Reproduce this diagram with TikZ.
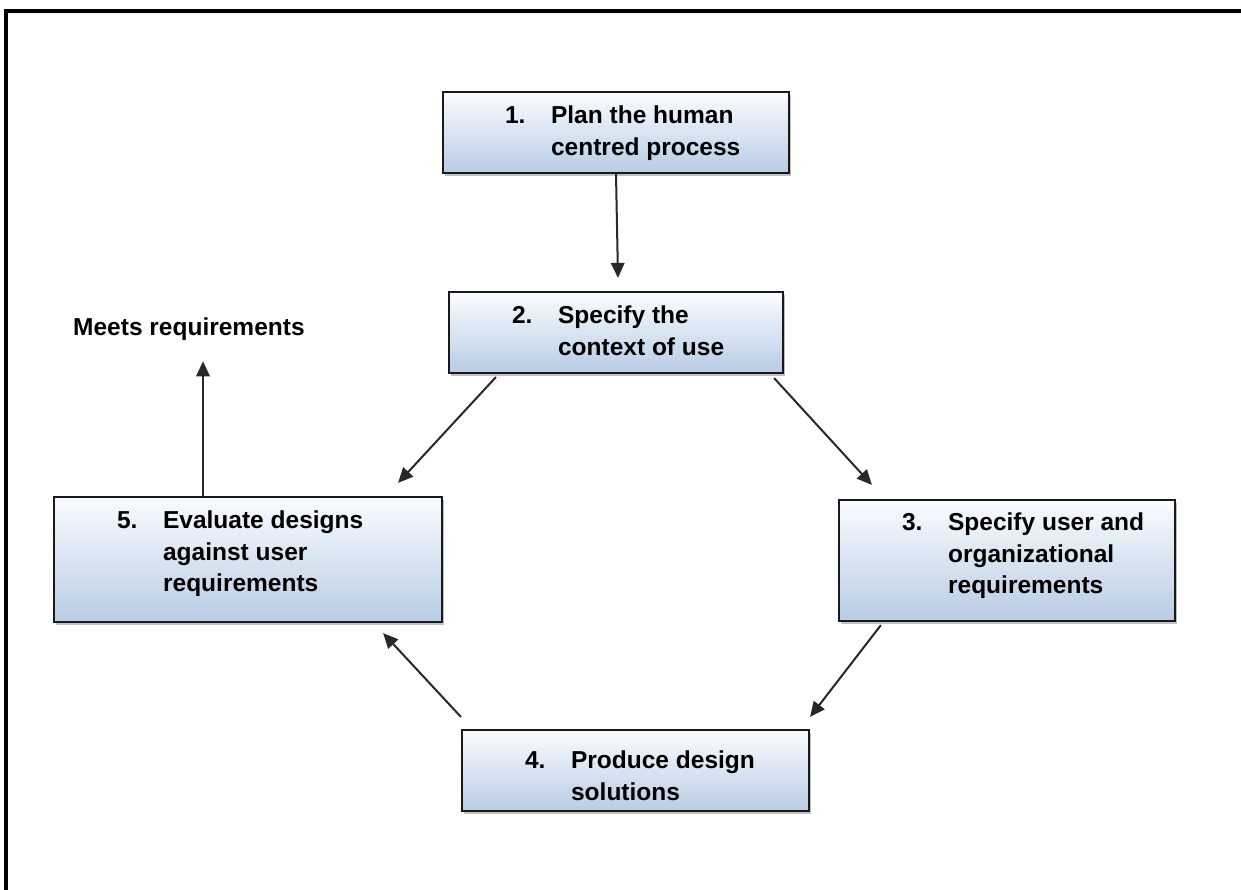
\documentclass[tikz,border=0pt]{standalone}
\usepackage{fontspec}
\setmainfont{Liberation Sans}
\usetikzlibrary{arrows.meta,calc,shadows}
\definecolor{boxtop}{RGB}{250,252,255}
\definecolor{boxbot}{RGB}{184,204,228}
\definecolor{boxline}{RGB}{25,25,25}
\definecolor{arrowgray}{RGB}{40,40,40}
% number column followed by the step text, first baseline on top
\newcommand\stagetext[2]{\begin{tabular}[t]{@{}p{46pt}@{}l@{}}#1&#2\end{tabular}}
\begin{document}
\begin{tikzpicture}[x=1pt,y=-1pt,
  box/.style={draw=boxline, line width=2.2pt, top color=boxtop, bottom color=boxbot,
    drop shadow={shadow xshift=2pt, shadow yshift=-3pt, opacity=0.35, fill=black!70},
    inner sep=0pt},
  lbl/.style={anchor=base west, inner sep=0pt,
    font=\fontsize{24.5}{31.5}\selectfont\bfseries, text=black},
  flow/.style={draw=arrowgray, line width=2pt,
    -{Triangle[length=15pt,width=13.5pt]}}]
\useasboundingbox (0,0) rectangle (1241,890);

% frame (top and left edges)
\draw[line width=4pt, black] (6,890) -- (6,11.5) -- (1241,11.5);

% process boxes
\node[box, minimum width=346pt, minimum height=81pt]  (b1) at (616,132.5) {};
\node[box, minimum width=334pt, minimum height=81pt]  (b2) at (616,332.5) {};
\node[box, minimum width=336pt, minimum height=121pt] (b3) at (1007,560.5) {};
\node[box, minimum width=347pt, minimum height=81pt]  (b4) at (635.5,770.5) {};
\node[box, minimum width=388pt, minimum height=125pt] (b5) at (248,559.5) {};

% box texts
\node[lbl] (t1) at ($(b1.north west)+(63,33)$)
  {\stagetext{1.}{Plan the human\\&centred process}};
\node[lbl] (t2) at ($(b2.north west)+(64,33)$)
  {\stagetext{2.}{Specify the\\&context of use}};
\node[lbl] (t3) at ($(b3.north west)+(64,32)$)
  {\stagetext{3.}{Specify user and\\&organizational\\&requirements}};
\node[lbl] (t4) at ($(b4.north west)+(64,40)$)
  {\stagetext{4.}{Produce design\\&solutions}};
\node[lbl] (t5) at ($(b5.north west)+(64,33)$)
  {\stagetext{5.}{Evaluate designs\\&against user\\&requirements}};

% outcome label
\node[lbl] (m) at (73,335) {Meets requirements};

% flow arrows
\draw[flow] (b1.south) -- ($(b2.north)+(2,-13)$);
\draw[flow] ($(b2.south west)+(48,3)$) -- ($(b5.north east)+(-45,-13)$);
\draw[flow] ($(b2.south east)+(-10,4)$) -- ($(b3.north west)+(34,-14)$);
\draw[flow] ($(b3.south west)+(43,3)$) -- ($(b4.north east)+(0,-12)$);
\draw[flow] ($(b4.north west)+(0,-12)$) -- ($(b5.south east)+(-60,10)$);
\draw[flow] ($(b5.north)+(-45,0)$) -- ($(m.south west)+(130,21)$);
\end{tikzpicture}
\end{document}
